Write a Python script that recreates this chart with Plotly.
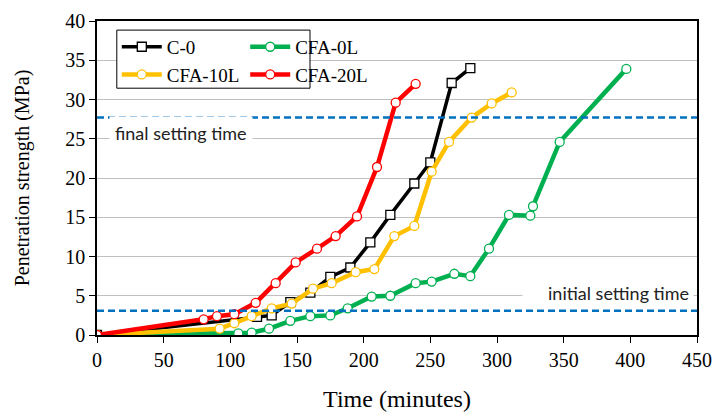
import plotly.graph_objects as go

# ---- data ----
c0_t = [0, 120, 131, 145, 160, 175, 190, 205, 220, 238, 250, 266, 280]
c0_v = [0, 2.3, 2.5, 4.2, 5.4, 7.4, 8.6, 11.8, 15.3, 19.3, 22.0, 32.1, 34.0]

cfa0_t = [0, 106, 116, 129, 145, 160, 175, 188, 206, 220, 239, 251, 268, 280, 294, 309, 325, 327, 347, 397]
cfa0_v = [0, 0.2, 0.3, 0.8, 1.8, 2.4, 2.5, 3.4, 4.9, 5.0, 6.6, 6.8, 7.8, 7.5, 11.0, 15.3, 15.2, 16.4, 24.6, 33.9]

cfa10_t = [0, 92, 103, 116, 131, 146, 162, 176, 194, 208, 223, 238, 251, 264, 281, 296, 311]
cfa10_v = [0, 0.8, 1.5, 2.4, 3.4, 4.0, 5.9, 6.6, 8.0, 8.4, 12.6, 13.9, 20.8, 24.6, 27.7, 29.5, 30.9]

cfa20_t = [0, 80, 90, 103, 119, 134, 149, 165, 179, 195, 210, 224, 239]
cfa20_v = [0, 2.0, 2.4, 2.65, 4.1, 6.6, 9.25, 11.0, 12.6, 15.1, 21.4, 29.6, 32.0]

initial_setting = 3.1
final_setting = 27.7

x_ticks = [0, 50, 100, 150, 200, 250, 300, 350, 400, 450]
y_ticks = [0, 5, 10, 15, 20, 25, 30, 35, 40]

SERIF = "Liberation Serif, Times New Roman, serif"
SANS = "Lato, Carlito, Calibri, sans-serif"

fig = go.Figure()

def add_series(t, v, name, color, lw, symbol, legend):
    fig.add_trace(go.Scatter(
        x=t, y=v, name=name, mode="lines+markers", legend=legend,
        line=dict(color=color, width=lw),
        marker=dict(symbol=symbol, size=9, color="white",
                    line=dict(color=color, width=1.3)),
    ))

add_series(c0_t, c0_v, "C-0", "#000000", 3.5, "square", "legend")
add_series(cfa0_t, cfa0_v, "CFA-0L", "#00B050", 4.5, "circle", "legend2")
add_series(cfa10_t, cfa10_v, "CFA-10L", "#FFC000", 4.5, "circle", "legend")
add_series(cfa20_t, cfa20_v, "CFA-20L", "#FF0000", 4.5, "circle", "legend2")

for yv in (initial_setting, final_setting):
    fig.add_shape(type="line", xref="paper", x0=0, x1=1, yref="y", y0=yv, y1=yv,
                  line=dict(color="#0070C0", width=2.5, dash="7px,4px"), layer="above")

fig.add_annotation(x=63, y=25.7, xref="x", yref="y", text="final setting time",
                   showarrow=False, bgcolor="white", borderpad=5,
                   font=dict(family=SANS, size=18, color="#222"))
fig.add_annotation(x=383, y=5.3, xref="x", yref="y", text="initial setting time",
                   showarrow=False, bgcolor="white", borderpad=4, width=162, align="right",
                   font=dict(family=SANS, size=18, color="#222"))

# legend frame
fig.add_shape(type="rect", xref="paper", yref="paper", x0=0.033, x1=0.355, y0=0.786, y1=0.971,
              line=dict(color="black", width=1), fillcolor="white", layer="above")

leg_common = dict(bgcolor="rgba(0,0,0,0)", borderwidth=0, itemwidth=40,
                  font=dict(family=SERIF, size=19, color="black"),
                  xanchor="left", yanchor="top", tracegroupgap=0)

fig.update_layout(
    width=716, height=414,
    margin=dict(l=97, r=19, t=21, b=79),
    plot_bgcolor="white", paper_bgcolor="white",
    showlegend=True,
    legend=dict(x=0.033, y=0.978, **leg_common),
    legend2=dict(x=0.247, y=0.978, **leg_common),
    xaxis=dict(range=[0, 450], tickvals=x_ticks, showgrid=False, zeroline=False, automargin=False,
               showline=True, linecolor="black", linewidth=1.5, mirror=True,
               ticks="outside", ticklen=6, tickcolor="black",
               tickfont=dict(family=SERIF, size=20, color="black"),
               title=dict(text="Time (minutes)", font=dict(family=SERIF, size=24, color="black"), standoff=20)),
    yaxis=dict(range=[0, 40], tickvals=y_ticks, showgrid=True, gridcolor="#C0C0C0", gridwidth=1,
               zeroline=False, showline=True, linecolor="black", linewidth=1.5, mirror=True, automargin=False,
               ticks="outside", ticklen=6, tickcolor="black",
               tickfont=dict(family=SERIF, size=20, color="black"),
               title=dict(text="Penetration strength (MPa)", font=dict(family=SERIF, size=20, color="black"), standoff=30)),
)

fig.write_html("out.html", config={"displayModeBar": False},
               post_script="document.body.style.margin='0';")
